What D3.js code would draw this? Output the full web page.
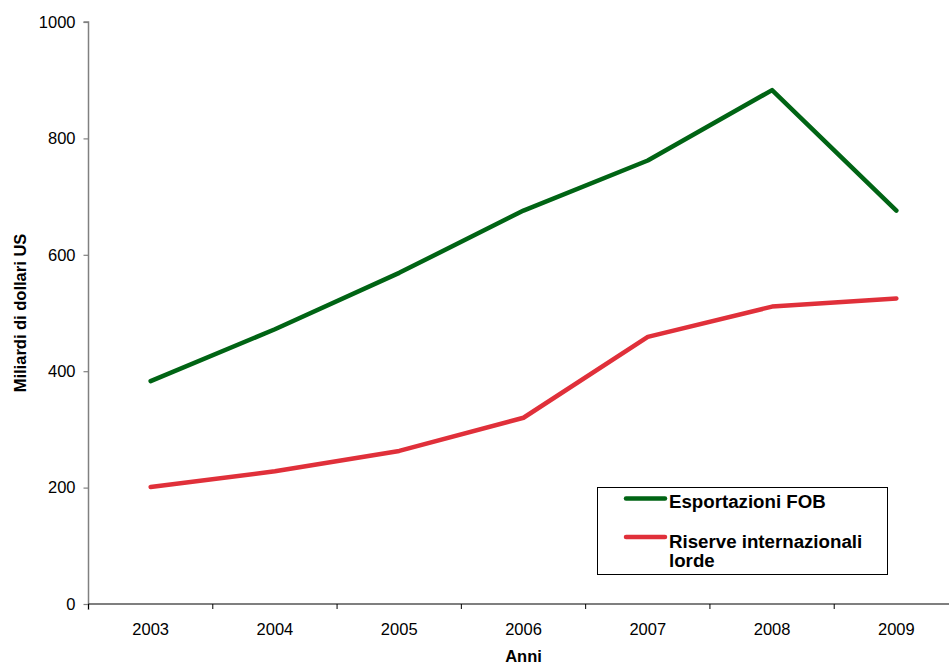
<!DOCTYPE html>
<html>
<head>
<meta charset="utf-8">
<script src="https://cdn.jsdelivr.net/npm/d3@7"></script>
<style>
  html, body { margin: 0; padding: 0; background: #fff; }
  svg { display: block; font-family: "Liberation Sans", Arial, sans-serif; }
</style>
</head>
<body>
<svg id="chart" width="949" height="664"></svg>
<script>
// Data (miliardi di dollari US)
const years = ["2003", "2004", "2005", "2006", "2007", "2008", "2009"];
const esportazioni = [383, 472, 569, 676, 762, 883, 676];
const riserve = [201, 228, 263, 320, 459, 511, 525];
const yTicks = [0, 200, 400, 600, 800, 1000];
const seriesNames = ["Esportazioni FOB", "Riserve internazionali lorde"];
const seriesColors = ["#006414", "#e0303a"];

const svg = d3.select("#chart");
const plotLeft = 88.5, plotRight = 958.5, plotTop = 22, plotBottom = 604;

const x = d3.scaleBand().domain(years).range([plotLeft, plotRight]).padding(0);
const y = d3.scaleLinear().domain([0, 1000]).range([plotBottom, plotTop]);
const cx = d => x(d) + x.bandwidth() / 2;

// Y axis (grey)
const yAxis = svg.append("g")
  .attr("transform", `translate(${plotLeft},0)`)
  .call(d3.axisLeft(y).tickValues(yTicks).tickFormat(d3.format("d")).tickSize(5).tickPadding(8));
yAxis.select(".domain").attr("stroke", "#808080").attr("stroke-width", 1.5)
  .attr("d", `M-5,${y(1000)}H0V${y(0) + 6}`);
yAxis.selectAll(".tick line").attr("stroke", "#808080").attr("stroke-width", 1.2);
yAxis.selectAll(".tick text").attr("font-size", 16.5).attr("fill", "#000")
  .attr("font-family", "Liberation Sans, Arial, sans-serif");

// X axis: labels centred in bands, tick marks on band boundaries
const xAxis = svg.append("g")
  .attr("transform", `translate(0,${plotBottom})`)
  .call(d3.axisBottom(x).tickSize(0).tickPadding(19));
xAxis.select(".domain").attr("stroke", "#000").attr("stroke-width", 1.2)
  .attr("d", `M${plotLeft},0H${plotRight}`);
xAxis.selectAll(".tick text").attr("font-size", 16.5).attr("fill", "#000")
  .attr("font-family", "Liberation Sans, Arial, sans-serif");
xAxis.selectAll("line.bound")
  .data(years)
  .enter().append("line")
  .attr("class", "bound")
  .attr("x1", d => x(d)).attr("x2", d => x(d))
  .attr("y1", 0).attr("y2", 5)
  .attr("stroke", "#000").attr("stroke-width", 1);

// Axis titles
svg.append("text")
  .attr("x", cx("2006")).attr("y", 662)
  .attr("text-anchor", "middle")
  .attr("font-size", 16.5).attr("font-weight", "bold")
  .text("Anni");
svg.append("text")
  .attr("transform", "translate(26,313) rotate(-90)")
  .attr("text-anchor", "middle")
  .attr("font-size", 16.5).attr("font-weight", "bold")
  .text("Miliardi di dollari US");

// Lines
const line = d3.line().x((d, i) => cx(years[i])).y(d => y(d));
[esportazioni, riserve].forEach((vals, k) => {
  svg.append("path")
    .datum(vals)
    .attr("d", line)
    .attr("fill", "none")
    .attr("stroke", seriesColors[k])
    .attr("stroke-width", 4.5)
    .attr("stroke-linejoin", "round")
    .attr("stroke-linecap", "round");
});

// Legend
const lg = svg.append("g");
lg.append("rect")
  .attr("x", 597.5).attr("y", 487.5).attr("width", 290).attr("height", 87)
  .attr("fill", "#fff").attr("stroke", "#000").attr("stroke-width", 1);
const legendRows = [
  { name: seriesNames[0], lines: ["Esportazioni FOB"], ly: 498.5, ty: 508 },
  { name: seriesNames[1], lines: ["Riserve internazionali", "lorde"], ly: 537, ty: 547.5 }
];
legendRows.forEach((r, k) => {
  lg.append("line")
    .attr("x1", 626).attr("x2", 665).attr("y1", r.ly).attr("y2", r.ly)
    .attr("stroke", seriesColors[k]).attr("stroke-width", 4.5)
    .attr("stroke-linecap", "round");
  const t = lg.append("text")
    .attr("x", 669).attr("y", r.ty)
    .attr("font-size", 18.7).attr("font-weight", "bold");
  r.lines.forEach((s, j) => {
    t.append("tspan").attr("x", 669).attr("dy", j === 0 ? 0 : 19.5).text(s);
  });
});
</script>
</body>
</html>
